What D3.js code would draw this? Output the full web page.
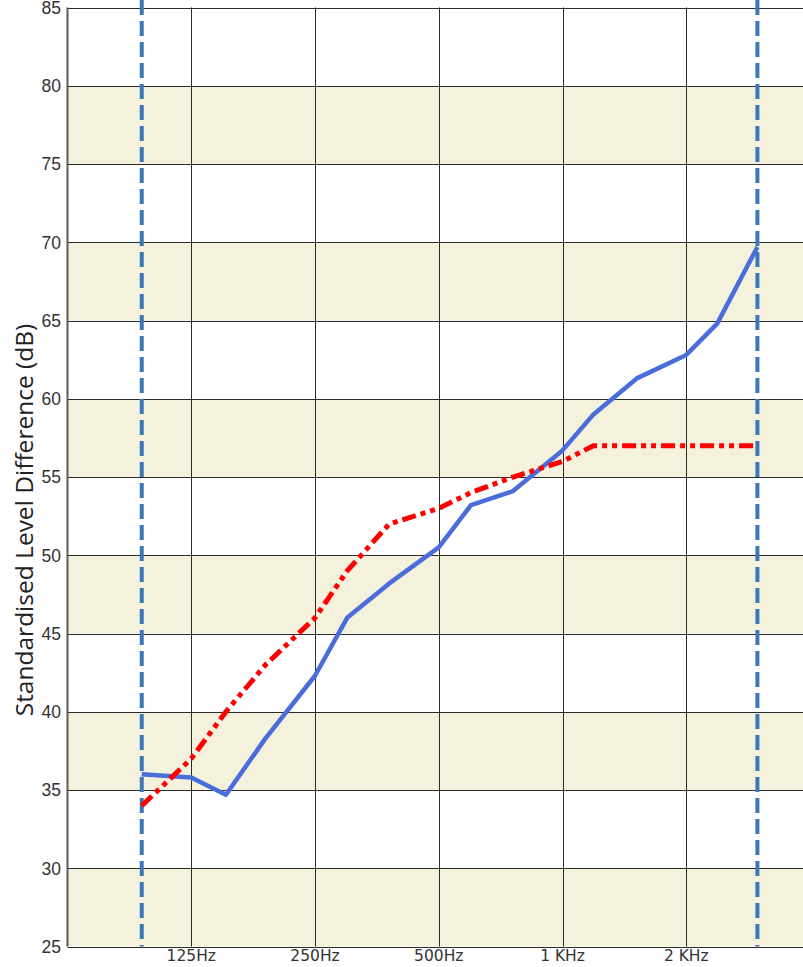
<!DOCTYPE html>
<html>
<head>
<meta charset="utf-8">
<script src="https://cdn.jsdelivr.net/npm/d3@7"></script>
<style>
  html, body { margin: 0; padding: 0; background: #fff; }
  svg { display: block; }
</style>
</head>
<body>
<svg id="chart" width="803" height="967"></svg>
<script>
// One-third octave band centre frequencies (Hz)
const bands = [100, 125, 160, 200, 250, 315, 400, 500, 630, 800, 1000, 1250, 1600, 2000, 2500, 3150];
// Measured standardised level difference DnT (dB)
const measured = [36.0, 35.8, 34.7, 38.3, 42.3, 46.0, 48.2, 50.5, 53.2, 54.1, 56.7, 59.0, 61.3, 62.8, 64.8, 69.7];
// Shifted reference curve (dB)
const reference = [34, 37, 40, 43, 46, 49, 52, 53, 54, 55, 56, 57, 57, 57, 57, 57];
// Octave knots of the frequency axis
const octaveKnots = [62.5, 125, 250, 500, 1000, 2000, 4000];
// Labelled frequency gridlines
const xTickValues = [125, 250, 500, 1000, 2000];
const xTickLabels = ["125Hz", "250Hz", "500Hz", "1 KHz", "2 KHz"];
// Level axis ticks
const yTickValues = [25, 30, 35, 40, 45, 50, 55, 60, 65, 70, 75, 80, 85];
// Evaluation range limits (Hz)
const rangeLimits = [100, 3150];

(function () {
const svg = d3.select("#chart");
const plotLeft = 67.5, plotTop = 7.5, plotBottom = 946.5;
const octave = 123.75;

// Frequency axis: linear within each octave, equal width per octave
const x = d3.scaleLinear()
  .domain(octaveKnots)
  .range(octaveKnots.map((_, i) => plotLeft + i * octave));
const y = d3.scaleLinear().domain([25, 85]).range([plotBottom, plotTop]);
const plotRight = x(4000);

// Alternating shaded bands
const shaded = yTickValues.slice(0, -1).filter((v, i) => i % 2 === 0);
svg.append("g").selectAll("rect").data(shaded).join("rect")
  .attr("x", plotLeft).attr("width", plotRight - plotLeft)
  .attr("y", d => y(d + 5)).attr("height", d => y(d) - y(d + 5))
  .attr("fill", "#f4f2dc");

// Horizontal gridlines
svg.append("g").selectAll("line").data(yTickValues).join("line")
  .attr("x1", plotLeft).attr("x2", plotRight)
  .attr("y1", d => Math.round(y(d)) + 0.5).attr("y2", d => Math.round(y(d)) + 0.5)
  .attr("stroke", "#2b2b2b").attr("stroke-width", 1);

// Vertical gridlines
svg.append("g").selectAll("line").data(xTickValues).join("line")
  .attr("x1", d => Math.round(x(d)) + 0.5).attr("x2", d => Math.round(x(d)) + 0.5)
  .attr("y1", plotTop).attr("y2", plotBottom)
  .attr("stroke", "#2b2b2b").attr("stroke-width", 1);

// Left axis line
svg.append("line")
  .attr("x1", plotLeft).attr("x2", plotLeft).attr("y1", plotTop).attr("y2", plotBottom)
  .attr("stroke", "#5a5a5a").attr("stroke-width", 2);

// Y tick labels
svg.append("g").selectAll("text").data(yTickValues).join("text")
  .attr("x", 61).attr("y", d => y(d))
  .attr("dy", "0.36em")
  .attr("text-anchor", "end")
  .attr("font-family", "Liberation Sans, Arial, sans-serif")
  .attr("font-size", 17.5)
  .attr("fill", "#333")
  .text(d => d);

// X tick labels
svg.append("g").selectAll("text").data(xTickValues).join("text")
  .attr("x", d => x(d)).attr("y", 961)
  .attr("text-anchor", "middle")
  .attr("font-family", "DejaVu Sans, Tahoma, sans-serif")
  .attr("font-size", 15.5)
  .attr("fill", "#333")
  .text((d, i) => xTickLabels[i]);

// Y axis title
svg.append("text")
  .attr("transform", "translate(33,520) rotate(-90)")
  .attr("text-anchor", "middle")
  .attr("font-family", "Open Sans, Liberation Sans, sans-serif")
  .attr("font-size", 24.5)
  .attr("fill", "#222")
  .text("Standardised Level Difference (dB)");

// Evaluation range limits
svg.append("g").selectAll("line").data(rangeLimits).join("line")
  .attr("x1", d => x(d)).attr("x2", d => x(d))
  .attr("y1", 0).attr("y2", plotBottom)
  .attr("stroke", "#3d78b6").attr("stroke-width", 4)
  .attr("stroke-dasharray", "15,6");

const line = d3.line().x(d => x(d[0])).y(d => y(d[1]));

// Measured curve
svg.append("path")
  .datum(bands.map((f, i) => [f, measured[i]]))
  .attr("d", line)
  .attr("fill", "none")
  .attr("stroke", "#4a6ddb").attr("stroke-width", 4.5)
  .attr("stroke-linejoin", "round");

// Reference curve
svg.append("path")
  .datum(bands.map((f, i) => [f, reference[i]]))
  .attr("d", line)
  .attr("fill", "none")
  .attr("stroke", "#ff0000").attr("stroke-width", 5)
  .attr("stroke-dasharray", "14,5,5,5,5,5");
})();
</script>
</body>
</html>
